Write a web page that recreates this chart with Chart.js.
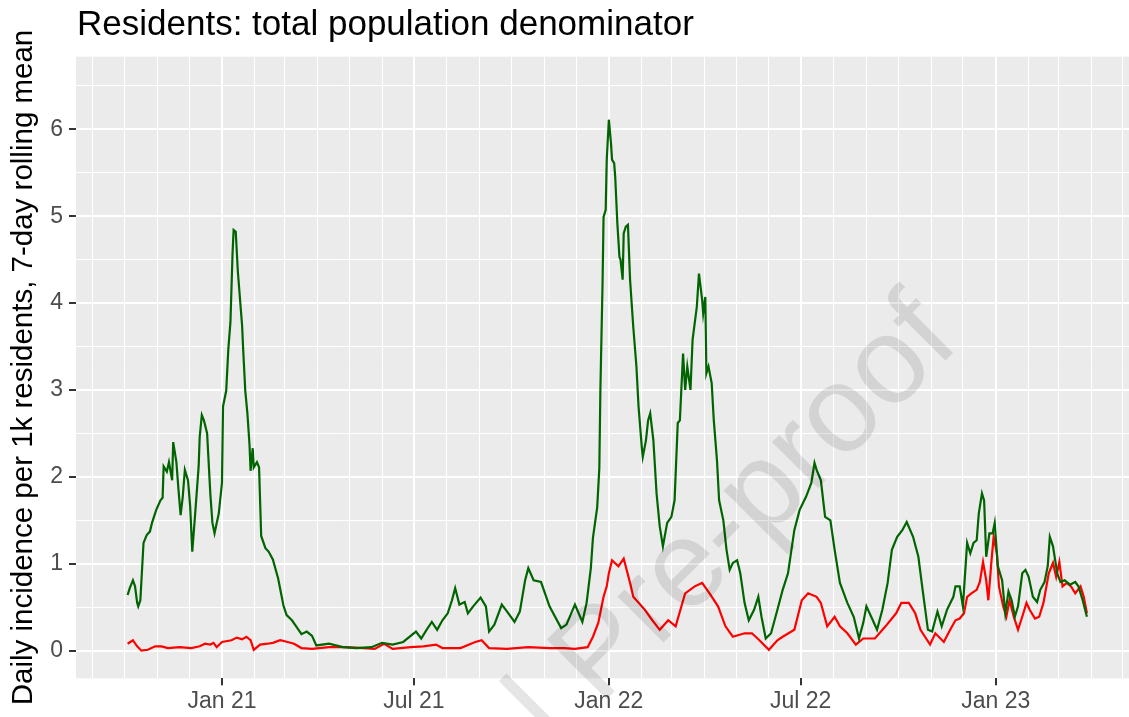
<!DOCTYPE html>
<html>
<head>
<meta charset="utf-8">
<script src="https://cdn.jsdelivr.net/npm/chart.js@4.4.0/dist/chart.umd.min.js"></script>
<style>
  html, body { margin: 0; padding: 0; background: #fff; }
</style>
</head>
<body>
<canvas id="chart1" width="1129" height="717"></canvas>

<script>
    // text
    const chartTitle = 'Residents: total population denominator';
    const yAxisTitle = 'Daily incidence per 1k residents, 7-day rolling mean';
    const watermarkText = 'Journal Pre-proof';

    // x axis: days counted from 1 Jan 2021
    const tickDates = ['2021-01-01', '2021-07-01', '2022-01-01', '2022-07-01', '2023-01-01'];
    const tickLabels = ['Jan 21', 'Jul 21', 'Jan 22', 'Jul 22', 'Jan 23'];
    const yTickValues = [0, 1, 2, 3, 4, 5, 6];

    // green series
    const greenDays = [
        -89, -87, -84, -82, -80, -79, -77, -74, -71, -68,
        -66, -62, -58, -56, -55, -52, -50, -47, -46, -43,
        -41, -39, -37, -35, -32, -30, -28, -25, -22, -21,
        -19, -17, -14, -11, -9, -7, -3, 0, 1, 4,
        6, 8, 10, 11, 13, 15, 19, 20, 22, 24,
        26, 27, 29, 30, 33, 35, 37, 41, 44, 48,
        53, 58, 61, 66, 70, 75, 80, 85, 89, 101,
        114, 127, 141, 151, 161, 171, 183, 188, 193, 198,
        203, 208, 213, 217, 220, 224, 229, 232, 237, 244,
        249, 252, 257, 264, 269, 276, 281, 286, 289, 294,
        301, 309, 320, 325, 333, 340, 344, 348, 350, 354,
        356, 357, 359, 360, 362, 363, 365, 367, 368, 370,
        371, 373, 375, 376, 378, 379, 381, 383, 385, 388,
        391, 393, 396, 397, 400, 402, 404, 407, 410, 413,
        416, 420, 424, 427, 430, 432, 435, 437, 439, 442,
        444, 446, 448, 450, 453, 454, 456, 457, 459, 462,
        464, 467, 469, 473, 476, 479, 482, 486, 489, 493,
        497, 502, 506, 509, 513, 518, 524, 529, 534, 540,
        545, 551, 556, 559, 561, 565, 569, 574, 578, 583,
        590, 596, 601, 605, 608, 614, 618, 623, 628, 632,
        637, 642, 646, 652, 657, 661, 666, 670, 675, 679,
        684, 690, 692, 696, 699, 703, 706, 709, 712, 714,
        717, 719, 721, 724, 727, 729, 732, 736, 739, 742,
        745, 748, 751, 755, 758, 761, 765, 769, 772, 776,
        779, 781, 784, 788, 791, 795, 800, 805, 808, 812,
        816
    ];
    const greenValues = [
        0.64, 0.72, 0.81, 0.74, 0.55, 0.51, 0.58, 1.24, 1.33, 1.37,
        1.47, 1.62, 1.73, 1.76, 2.12, 2.06, 2.17, 1.96, 2.40, 2.17,
        1.85, 1.56, 1.77, 2.08, 1.96, 1.66, 1.14, 1.62, 2.12, 2.46,
        2.71, 2.65, 2.50, 1.81, 1.47, 1.35, 1.58, 1.93, 2.81, 2.99,
        3.47, 3.78, 4.58, 4.84, 4.82, 4.36, 3.74, 3.47, 2.99, 2.73,
        2.37, 2.07, 2.33, 2.11, 2.17, 2.11, 1.32, 1.18, 1.14, 1.05,
        0.83, 0.52, 0.41, 0.35, 0.28, 0.19, 0.22, 0.17, 0.06, 0.08,
        0.04, 0.03, 0.04, 0.09, 0.07, 0.10, 0.22, 0.14, 0.24, 0.33,
        0.24, 0.35, 0.43, 0.58, 0.72, 0.53, 0.56, 0.43, 0.51, 0.61,
        0.51, 0.22, 0.30, 0.53, 0.45, 0.33, 0.45, 0.81, 0.95, 0.81,
        0.79, 0.51, 0.26, 0.30, 0.53, 0.33, 0.55, 0.95, 1.30, 1.65,
        2.10, 3.00, 4.20, 4.99, 5.07, 5.65, 6.11, 5.84, 5.65, 5.61,
        5.45, 4.92, 4.53, 4.50, 4.27, 4.80, 4.88, 4.90, 4.27, 3.73,
        3.27, 2.81, 2.35, 2.23, 2.42, 2.65, 2.73, 2.42, 1.81, 1.43,
        1.20, 1.47, 1.54, 1.73, 2.62, 2.65, 3.42, 3.00, 3.27, 3.00,
        3.58, 3.77, 3.96, 4.34, 4.04, 3.88, 4.07, 3.19, 3.27, 3.08,
        2.65, 2.19, 1.73, 1.50, 1.16, 0.93, 1.01, 1.04, 0.89, 0.55,
        0.35, 0.47, 0.62, 0.39, 0.14, 0.20, 0.47, 0.70, 0.89, 1.39,
        1.62, 1.77, 1.93, 2.16, 2.08, 1.96, 1.54, 1.50, 1.16, 0.78,
        0.55, 0.39, 0.14, 0.32, 0.51, 0.35, 0.24, 0.47, 0.78, 1.16,
        1.31, 1.39, 1.48, 1.31, 1.08, 0.70, 0.24, 0.22, 0.45, 0.28,
        0.47, 0.62, 0.74, 0.74, 0.51, 1.24, 1.12, 1.24, 1.27, 1.58,
        1.81, 1.73, 1.08, 1.35, 1.35, 1.47, 0.97, 0.81, 0.43, 0.68,
        0.58, 0.39, 0.51, 0.89, 0.93, 0.85, 0.62, 0.56, 0.70, 0.79,
        0.97, 1.31, 1.20, 0.89, 0.79, 0.81, 0.76, 0.79, 0.74, 0.58,
        0.39
    ];

    // red series
    const redDays = [
        -89, -84, -80, -76, -70, -63, -57, -51, -40, -29,
        -21, -16, -11, -8, -5, 0, 9, 14, 19, 23,
        27, 30, 36, 43, 48, 55, 62, 68, 75, 85,
        101, 117, 134, 144, 153, 161, 178, 190, 202, 208,
        225, 239, 245, 252, 269, 289, 309, 323, 333, 345,
        350, 355, 360, 363, 365, 368, 374, 379, 385, 388,
        399, 406, 413, 421, 428, 437, 446, 453, 460, 468,
        475, 482, 493, 500, 507, 516, 524, 529, 540, 547,
        553, 561, 565, 571, 578, 583, 590, 598, 605, 616,
        626, 636, 641, 648, 654, 659, 668, 673, 681, 687,
        692, 696, 700, 703, 707, 712, 715, 718, 721, 723,
        726, 728, 731, 733, 737, 740, 743, 747, 751, 755,
        759, 762, 767, 771, 775, 780, 784, 787, 790, 793,
        797, 801, 805, 810, 813, 816
    ];
    const redValues = [
        0.08, 0.12, 0.05, 0.00, 0.01, 0.05, 0.05, 0.03, 0.04, 0.03,
        0.05, 0.08, 0.07, 0.09, 0.04, 0.10, 0.12, 0.15, 0.13, 0.16,
        0.12, 0.01, 0.07, 0.08, 0.09, 0.12, 0.10, 0.08, 0.03, 0.02,
        0.04, 0.04, 0.03, 0.02, 0.08, 0.02, 0.04, 0.05, 0.07, 0.03,
        0.03, 0.10, 0.12, 0.03, 0.02, 0.04, 0.03, 0.03, 0.02, 0.04,
        0.16, 0.32, 0.62, 0.74, 0.89, 1.04, 0.97, 1.06, 0.78, 0.62,
        0.47, 0.35, 0.24, 0.35, 0.28, 0.66, 0.74, 0.78, 0.66, 0.51,
        0.28, 0.16, 0.20, 0.20, 0.12, 0.01, 0.12, 0.16, 0.24, 0.58,
        0.66, 0.62, 0.55, 0.28, 0.39, 0.28, 0.20, 0.07, 0.14, 0.14,
        0.28, 0.43, 0.55, 0.55, 0.43, 0.24, 0.07, 0.20, 0.10, 0.24,
        0.35, 0.37, 0.43, 0.62, 0.66, 0.70, 0.79, 1.02, 0.81, 0.58,
        1.04, 1.31, 1.12, 0.74, 0.51, 0.39, 0.58, 0.39, 0.24, 0.39,
        0.55, 0.47, 0.37, 0.39, 0.55, 0.89, 1.01, 0.85, 1.02, 0.74,
        0.78, 0.74, 0.66, 0.74, 0.62, 0.43
    ];

    const xMin = -137.7, xMax = 855.7;
    const yMin = -0.318, yMax = 6.835;

    const DAY = 86400000;
    const origin = Date.UTC(2021, 0, 1);
    const toDay = s => (Date.parse(s) - origin) / DAY;
    const majorDays = tickDates.map(toDay);

    // monthly minor grid
    const monthDays = [];
    for (let y = 2020; y <= 2023; y++) {
        for (let m = 0; m < 12; m++) {
            const d = (Date.UTC(y, m, 1) - origin) / DAY;
            if (d >= xMin && d <= xMax) monthDays.push(d);
        }
    }
    const yGrid = [];
    for (let v = 0; v <= 6.5; v += 0.5) yGrid.push(v);

    const isMajorX = v => majorDays.includes(v);
    const isMajorY = v => Number.isInteger(v) && yTickValues.includes(v);

    const FONT = "'Liberation Sans', Arial, sans-serif";

    const panelBg = {
        id: 'panelBg',
        beforeDraw(chart) {
            const {ctx, chartArea: a} = chart;
            ctx.save();
            ctx.fillStyle = '#EBEBEB';
            ctx.fillRect(a.left, a.top, a.right - a.left, a.bottom - a.top);
            ctx.restore();
        }
    };

    const plotTitle = {
        id: 'plotTitle',
        afterDraw(chart) {
            const ctx = chart.ctx;
            ctx.save();
            ctx.font = '35px ' + FONT;
            ctx.fillStyle = '#000';
            ctx.textBaseline = 'alphabetic';
            ctx.fillText(chartTitle, chart.chartArea.left + 1, 35);
            ctx.restore();
        }
    };

    const watermark = {
        id: 'watermark',
        afterDraw(chart) {
            const ctx = chart.ctx;
            ctx.save();
            ctx.translate(626, 680);
            ctx.rotate(-Math.PI / 4);
            ctx.font = '123px ' + FONT;
            ctx.fillStyle = 'rgba(0,0,0,0.10)';
            ctx.textAlign = 'center';
            ctx.textBaseline = 'alphabetic';
            ctx.fillText(watermarkText, 0, 0);
            ctx.restore();
        }
    };

    function toPoints(days, values) {
        return days.map((d, i) => ({x: d, y: values[i]}));
    }

    new Chart(document.getElementById('chart1'), {
        type: 'line',
        data: {
            datasets: [{
                data: toPoints(greenDays, greenValues),
                borderColor: '#006400',
                borderWidth: 2.2,
                pointRadius: 0,
                tension: 0
            }, {
                data: toPoints(redDays, redValues),
                borderColor: '#FF0000',
                borderWidth: 2.2,
                pointRadius: 0,
                tension: 0
            }]
        },
        options: {
            responsive: false,
            animation: false,
            devicePixelRatio: 1,
            layout: { padding: { top: 56.7, left: 0, right: 0, bottom: 0 } },
            plugins: {
                legend: { display: false },
                tooltip: { enabled: false }
            },
            scales: {
                x: {
                    type: 'linear',
                    min: xMin,
                    max: xMax,
                    afterBuildTicks: s => { s.ticks = monthDays.map(v => ({value: v})); },
                    afterFit: s => { s.height = 38.7; },
                    border: { display: false },
                    grid: {
                        color: '#FFFFFF',
                        lineWidth: c => (c.tick && isMajorX(c.tick.value)) ? 2 : 1,
                        tickColor: c => (c.tick && isMajorX(c.tick.value)) ? '#333333' : 'rgba(0,0,0,0)',
                        tickWidth: 2,
                        tickLength: 7
                    },
                    ticks: {
                        autoSkip: false,
                        maxRotation: 0,
                        padding: 3,
                        color: '#4D4D4D',
                        font: { family: FONT, size: 23 },
                        callback: v => {
                            const i = majorDays.indexOf(v);
                            return i >= 0 ? tickLabels[i] : '';
                        }
                    }
                },
                y: {
                    min: yMin,
                    max: yMax,
                    afterBuildTicks: s => { s.ticks = yGrid.map(v => ({value: v})); },
                    afterFit: s => { s.width = 76; },
                    border: { display: false },
                    grid: {
                        color: '#FFFFFF',
                        lineWidth: c => (c.tick && isMajorY(c.tick.value)) ? 2 : 1,
                        tickColor: c => (c.tick && isMajorY(c.tick.value)) ? '#333333' : 'rgba(0,0,0,0)',
                        tickWidth: 2,
                        tickLength: 7
                    },
                    ticks: {
                        autoSkip: false,
                        padding: 6,
                        color: '#4D4D4D',
                        font: { family: FONT, size: 23 },
                        callback: v => isMajorY(v) ? String(v) : ''
                    },
                    title: {
                        display: true,
                        text: yAxisTitle,
                        color: '#000000',
                        font: { family: FONT, size: 29.5 },
                        padding: { top: 6, bottom: 0 }
                    }
                }
            }
        },
        plugins: [panelBg, plotTitle, watermark]
    });
</script>
</body>
</html>
